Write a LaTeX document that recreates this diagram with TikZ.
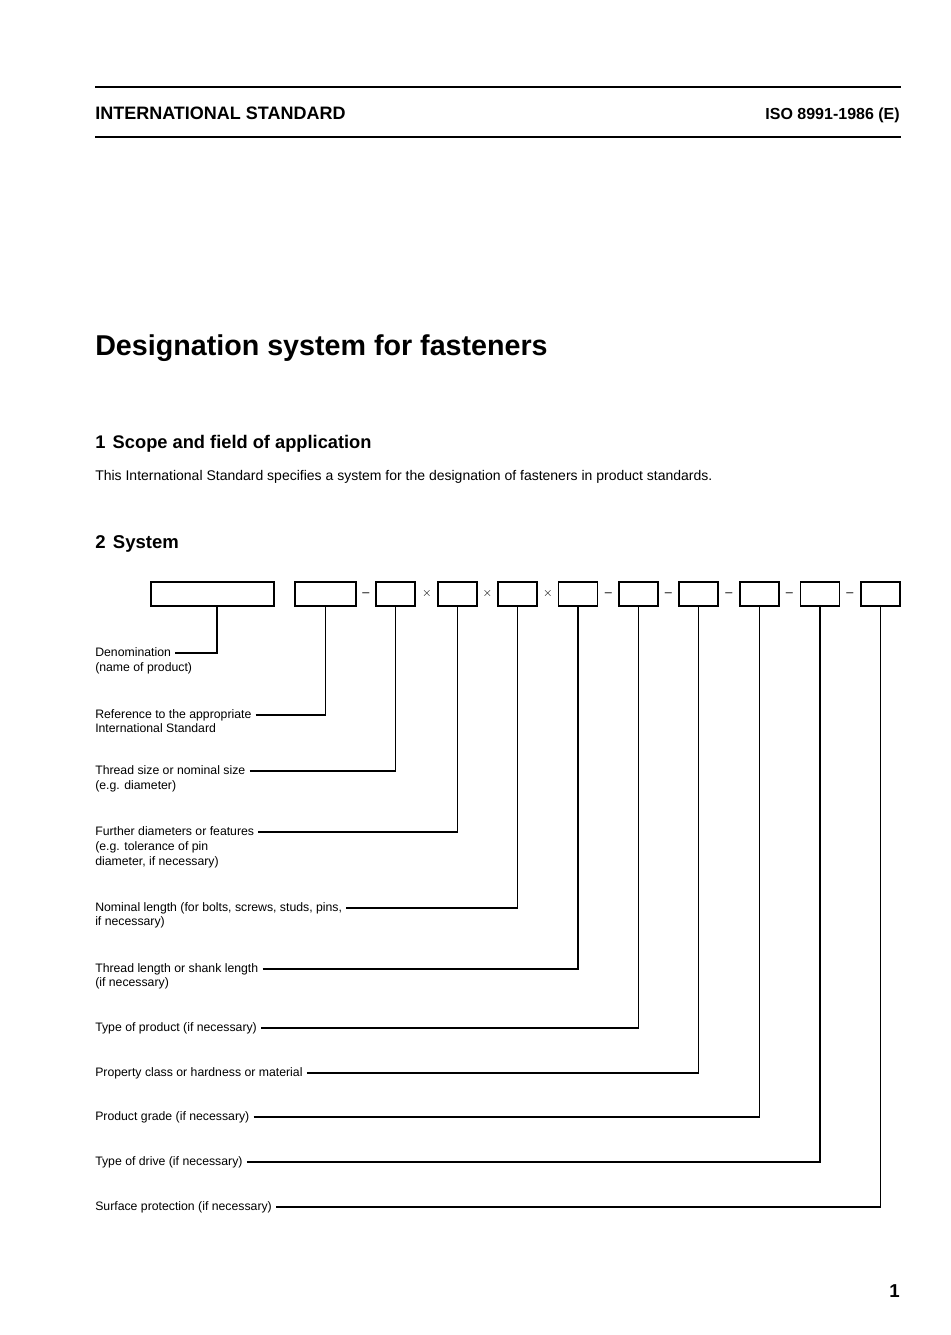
\documentclass[tikz,border=0pt]{standalone}
\usepackage{fontspec}
\setmainfont{Liberation Sans}
\newdimen\dpx \dpx=0.75pt

\begin{document}
\begin{tikzpicture}[x=0.75pt,y=-0.75pt,
        lbl/.style={font=\fontsize{9.2}{11}\selectfont, inner sep=0, text height=6.6pt, text depth=2pt, anchor=west},
        fbox/.style={draw, line width=0.9pt, minimum height=24\dpx, minimum width=39\dpx, inner sep=0},
        sep/.style={font=\fontsize{9.5}{11}\selectfont, inner sep=0},
        lead/.style={line width=0.9pt, shorten <=4\dpx},
        rule/.style={line width=2.2pt}]
        \path[use as bounding box, fill=white] (0,0) rectangle (950,1335);

        % page head
        \draw[rule] (95,87) -- (901,87);
        \draw[rule] (95,137) -- (901,137);
        \node[anchor=base west, inner sep=0, font=\fontsize{13.5}{16}\selectfont\bfseries] (head) at (95,119) {INTERNATIONAL STANDARD};
        \node[anchor=base east, inner sep=0, font=\fontsize{12}{14}\selectfont\bfseries] (isono) at (900,119) {ISO 8991-1986 (E)};
        \node[anchor=base west, inner sep=0, font=\fontsize{21.5}{25}\selectfont\bfseries] (title) at (95,355) {Designation system for fasteners};
        \node[anchor=base west, inner sep=0, font=\fontsize{13.7}{16}\selectfont\bfseries] (sec1) at (95,448) {1\hspace{5.5pt}Scope and field of application};
        \node[anchor=base west, inner sep=0, font=\fontsize{10.5}{12}\selectfont] (scope) at (95,480) {This International Standard specifies a system for the designation of fasteners in product standards.};
        \node[anchor=base west, inner sep=0, font=\fontsize{13.9}{16}\selectfont\bfseries] (sec2) at (95,548) {2\hspace{5.5pt}System};
        \node[anchor=base east, inner sep=0, font=\fontsize{14}{16}\selectfont\bfseries] (pageno) at (900,1297) {1};

        \begin{scope}[every node/.style={fbox}]
            \node[minimum width=123\dpx] (b1) at (212.5,594) {};
            \node[minimum width=61\dpx] (b2) at (325.5,594) {};
            \node (b3) at (395.5,594) {};
            \node (b4) at (457.5,594) {};
            \node (b5) at (517.5,594) {};
            \node (b6) at (578,594) {};
            \node (b7) at (638.5,594) {};
            \node (b8) at (698.5,594) {};
            \node (b9) at (759.5,594) {};
            \node (b10) at (820,594) {};
            \node (b11) at (880.5,594) {};
        \end{scope}

        \node[sep] (s1) at (366,595) {--};
        \node[sep] (s2) at (427,593) {$\times$};
        \node[sep] (s3) at (487.5,593) {$\times$};
        \node[sep] (s4) at (548,593) {$\times$};
        \node[sep] (s5) at (608.5,595) {--};
        \node[sep] (s6) at (668.5,595) {--};
        \node[sep] (s7) at (729,595) {--};
        \node[sep] (s8) at (789.5,595) {--};
        \node[sep] (s9) at (850,595) {--};

        \node[lbl] (l1) at (95,653) {Denomination};
        \node[lbl] (l1a) at (95,668) {(name of product)};
        \node[lbl] (l2) at (95,715) {Reference to the appropriate};
        \node[lbl] (l2a) at (95,729) {International Standard};
        \node[lbl] (l3) at (95,771) {Thread size or nominal size};
        \node[lbl] (l3a) at (95,786) {(e.g. diameter)};
        \node[lbl] (l4) at (95,832) {Further diameters or features};
        \node[lbl] (l4a) at (95,847) {(e.g. tolerance of pin};
        \node[lbl] (l4b) at (95,862) {diameter, if necessary)};
        \node[lbl] (l5) at (95,908) {Nominal length (for bolts, screws, studs, pins,};
        \node[lbl] (l5a) at (95,922) {if necessary)};
        \node[lbl] (l6) at (95,969) {Thread length or shank length};
        \node[lbl] (l6a) at (95,983) {(if necessary)};
        \node[lbl] (l7) at (95,1028) {Type of product (if necessary)};
        \node[lbl] (l8) at (95,1073) {Property class or hardness or material};
        \node[lbl] (l9) at (95,1117) {Product grade (if necessary)};
        \node[lbl] (l10) at (95,1162) {Type of drive (if necessary)};
        \node[lbl] (l11) at (95,1207) {Surface protection (if necessary)};

        \begin{scope}[every path/.style={lead}]
            \draw (l1.east) -| ([xshift=4.5\dpx]b1.south);
            \draw (l2.east) -| (b2.south);
            \draw (l3.east) -| (b3.south);
            \draw (l4.east) -| (b4.south);
            \draw (l5.east) -| (b5.south);
            \draw (l6.east) -| (b6.south);
            \draw (l7.east) -| (b7.south);
            \draw (l8.east) -| (b8.south);
            \draw (l9.east) -| (b9.south);
            \draw (l10.east) -| (b10.south);
            \draw (l11.east) -| (b11.south);
        \end{scope}
    \end{tikzpicture}
\end{document}
